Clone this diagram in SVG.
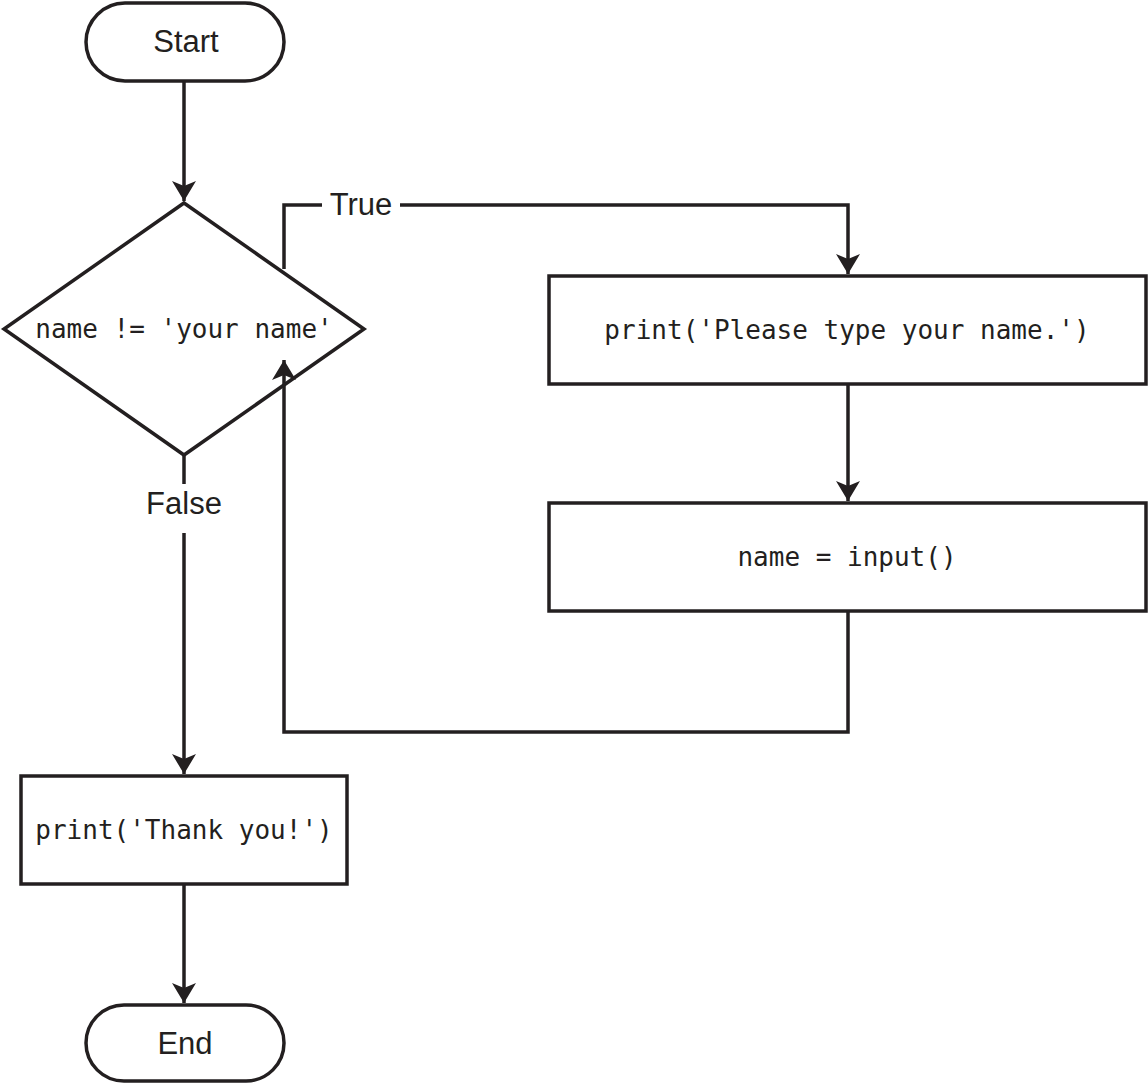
<svg xmlns="http://www.w3.org/2000/svg" width="1148" height="1088" viewBox="0 0 1148 1088">
<style>
.s{fill:#fff;stroke:#231f20;stroke-width:3.5}
.c{fill:none;stroke:#231f20;stroke-width:3.5}
.m{font-family:"DejaVu Sans Mono",monospace;font-size:26px;fill:#231f20;text-anchor:middle}
.l{font-family:"Liberation Sans",sans-serif;font-size:31px;fill:#231f20;text-anchor:middle}
</style>
<defs>
<marker id="b" viewBox="0 0 20 24" refX="20" refY="12" markerWidth="20" markerHeight="24" markerUnits="userSpaceOnUse" orient="auto"><path d="M0,0L20,12L0,24L5,12z" fill="#231f20"/></marker></defs>
<g id="start"><rect class="s" x="86" y="3" width="198" height="78" rx="39"/><text class="l" x="186" y="52">Start</text></g>
<g id="decision"><path class="s" d="M184,203L364,329L184,455L4,329Z"/><text class="m" x="184" y="338">name != 'your name'</text></g>
<g id="p1"><rect class="s" x="549" y="276" width="597" height="108"/><text class="m" x="847" y="339">print('Please type your name.')</text></g>
<g id="p2"><rect class="s" x="549" y="503" width="597" height="108"/><text class="m" x="847" y="566">name = input()</text></g>
<g id="p3"><rect class="s" x="21" y="776" width="326" height="108"/><text class="m" x="184" y="839">print('Thank you!')</text></g>
<g id="end"><rect class="s" x="86" y="1005" width="198" height="76" rx="38"/><text class="l" x="185" y="1054">End</text></g>
<g id="connectors">
<path class="c" d="M184,81V201" marker-end="url(#b)"/>
<path class="c" d="M284,269V205H322M400,205H848V274" marker-end="url(#b)"/>
<path class="c" d="M848,384V501" marker-end="url(#b)"/>
<path class="c" d="M848,611V732H284V360" marker-end="url(#b)"/>
<path class="c" d="M184,455V484"/>
<path class="c" d="M184,533V774" marker-end="url(#b)"/>
<path class="c" d="M184,884V1003" marker-end="url(#b)"/>
<text class="l" x="361" y="215">True</text>
<text class="l" x="184" y="514">False</text>
</g>
</svg>
